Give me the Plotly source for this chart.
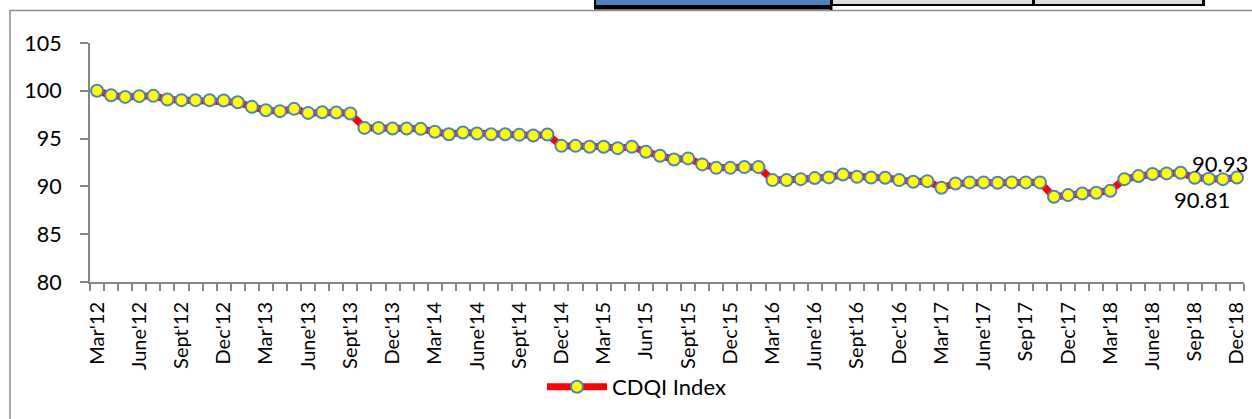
import plotly.graph_objects as go

tick_labels = ["Mar'12", "June'12", "Sept'12", "Dec'12", "Mar'13", "June'13", "Sept'13",
               "Dec'13", "Mar'14", "June'14", "Sept'14", "Dec'14", "Mar'15", "Jun'15",
               "Sept'15", "Dec'15", "Mar'16", "June'16", "Sept'16", "Dec'16", "Mar'17",
               "June'17", "Sep'17", "Dec'17", "Mar'18", "June'18", "Sep'18", "Dec'18"]

cdqi = [100.0, 99.54, 99.36, 99.44, 99.47, 99.09, 99.02, 99.02, 99.02, 98.99,
        98.81, 98.32, 97.97, 97.87, 98.11, 97.69, 97.76, 97.73, 97.63, 96.12,
        96.12, 96.06, 96.06, 96.02, 95.71, 95.46, 95.64, 95.54, 95.46, 95.46,
        95.39, 95.33, 95.43, 94.24, 94.24, 94.14, 94.14, 94.00, 94.14, 93.62,
        93.20, 92.82, 92.93, 92.30, 91.94, 91.94, 92.02, 92.02, 90.66, 90.66,
        90.76, 90.87, 90.94, 91.25, 91.00, 90.92, 90.90, 90.66, 90.48, 90.55,
        89.85, 90.31, 90.42, 90.42, 90.38, 90.42, 90.42, 90.42, 88.91, 89.09,
        89.26, 89.33, 89.54, 90.76, 91.08, 91.29, 91.36, 91.42, 90.90, 90.81,
        90.76, 90.93]

labelled_points = [79, 81]

months = list(range(len(cdqi)))
tick_pos = list(range(0, len(cdqi), 3))

W, H = 1252, 419
ML, MR, MT, MB = 90, 8, 43, 137
PW, PH = W - ML - MR, H - MT - MB


def px(x):
    return (x - ML) / PW


def py(y):
    return (H - MB - y) / PH


FONT = "Lato, 'Open Sans', sans-serif"
AXIS = "#868686"

fig = go.Figure()
fig.add_trace(go.Scatter(
    x=months, y=cdqi, mode="lines+markers", name="CDQI Index",
    line=dict(color="#ff0000", width=7),
    marker=dict(size=12, color="#ffff00", line=dict(color="#4f81bd", width=2)),
    hoverinfo="y",
))

ann_offsets = {79: (-7, -21), 81: (-17, 14)}
annotations = []
for i in labelled_points:
    dx, dy = ann_offsets[i]
    annotations.append(dict(x=months[i], y=cdqi[i], xref="x", yref="y",
                            text=f"{cdqi[i]:.2f}", showarrow=False,
                            xshift=dx, yshift=dy,
                            font=dict(family=FONT, size=22, color="black")))

shapes = [
    # outer chart frame
    dict(type="rect", xref="paper", yref="paper", x0=px(10), x1=px(1265),
         y0=py(430), y1=py(10.5), line=dict(color="#8c8c8c", width=1.5), layer="below"),
    # spreadsheet cell remnants at top
    dict(type="rect", xref="paper", yref="paper", x0=px(594), x1=px(832),
         y0=py(9.5), y1=py(-2), fillcolor="black", line=dict(width=0)),
    dict(type="rect", xref="paper", yref="paper", x0=px(596), x1=px(831),
         y0=py(5), y1=py(-2), fillcolor="#4f81bd", line=dict(width=0)),
    dict(type="rect", xref="paper", yref="paper", x0=px(830), x1=px(1205),
         y0=py(6), y1=py(-2), fillcolor="black", line=dict(width=0)),
    dict(type="rect", xref="paper", yref="paper", x0=px(833), x1=px(1032),
         y0=py(4), y1=py(-2), fillcolor="#dcdcdc", line=dict(width=0)),
    dict(type="rect", xref="paper", yref="paper", x0=px(1035), x1=px(1202),
         y0=py(4), y1=py(-2), fillcolor="#dcdcdc", line=dict(width=0)),
    dict(type="rect", xref="paper", yref="paper", x0=px(830), x1=px(832.5),
         y0=py(10), y1=py(-2), fillcolor="black", line=dict(width=0)),
]

fig.update_layout(
    width=W, height=H,
    margin=dict(l=ML, r=MR, t=MT, b=MB, autoexpand=False),
    paper_bgcolor="white", plot_bgcolor="white",
    font=dict(family=FONT, color="black"),
    showlegend=True,
    legend=dict(orientation="h", x=px(542), xanchor="left", y=py(387), yanchor="middle",
                font=dict(family=FONT, size=22, color="black"),
                itemwidth=60, bgcolor="rgba(0,0,0,0)"),
    annotations=annotations,
    shapes=shapes,
    xaxis=dict(
        range=[-0.5, len(cdqi) - 0.5], tickmode="array", tickvals=tick_pos,
        ticktext=tick_labels, tickangle=-90, ticks="", showgrid=False, zeroline=False,
        showline=True, linecolor=AXIS, linewidth=2,
        tickfont=dict(family=FONT, size=20, color="black"),
        ticklabelstandoff=10,
        minor=dict(ticks="outside", tick0=-0.5, dtick=1, ticklen=7, tickcolor=AXIS,
                   tickwidth=1.5, showgrid=False),
    ),
    yaxis=dict(
        range=[80, 105], dtick=5, tick0=80, ticks="outside", ticklen=8,
        tickcolor=AXIS, tickwidth=1.5, showgrid=False, zeroline=False,
        showline=True, linecolor=AXIS, linewidth=2,
        tickfont=dict(family=FONT, size=21.5, color="black"),
        ticklabelstandoff=14,
    ),
)

fig.write_html("out.html", config={"displayModeBar": False},
               post_script="document.body.style.margin='0';")
